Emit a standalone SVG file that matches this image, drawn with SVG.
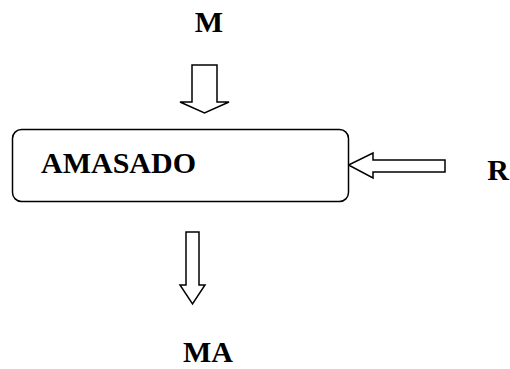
<svg xmlns="http://www.w3.org/2000/svg" width="510" height="369" viewBox="0 0 510 369">
  <style>
    .lbl { font-family: "Liberation Serif", "Times New Roman", serif; font-weight: bold; font-size: 30px; fill: #000; text-anchor: middle; }
    .blk { fill: #fff; stroke: #000; stroke-width: 1.5; }
    .arr { fill: #fff; stroke: #000; stroke-width: 1.5; stroke-linejoin: miter; }
  </style>
  <rect width="510" height="369" fill="#fff"/>

  <g id="connectors">
    <!-- input M, hollow block arrow pointing down -->
    <polygon class="arr" points="192,65 217,65 217,102 229,102 204.5,113 180,102 192,102"/>
    <!-- input R, hollow block arrow pointing left -->
    <polygon class="arr" points="445,160 445,172 373,172 373,178 348.5,165 373,153 373,160"/>
    <!-- output MA, hollow block arrow pointing down -->
    <polygon class="arr" points="186,232 199,232 199,285 205,285 192.5,304 180,285 186,285"/>
  </g>

  <g id="amasado">
    <rect class="blk" x="12.5" y="129.5" width="336" height="72" rx="9"/>
    <text class="lbl" x="118.5" y="173">AMASADO</text>
  </g>

  <g id="m">
    <text class="lbl" x="209" y="32">M</text>
  </g>

  <g id="r">
    <text class="lbl" x="498" y="180">R</text>
  </g>

  <g id="ma">
    <text class="lbl" x="208" y="362">MA</text>
  </g>
</svg>
